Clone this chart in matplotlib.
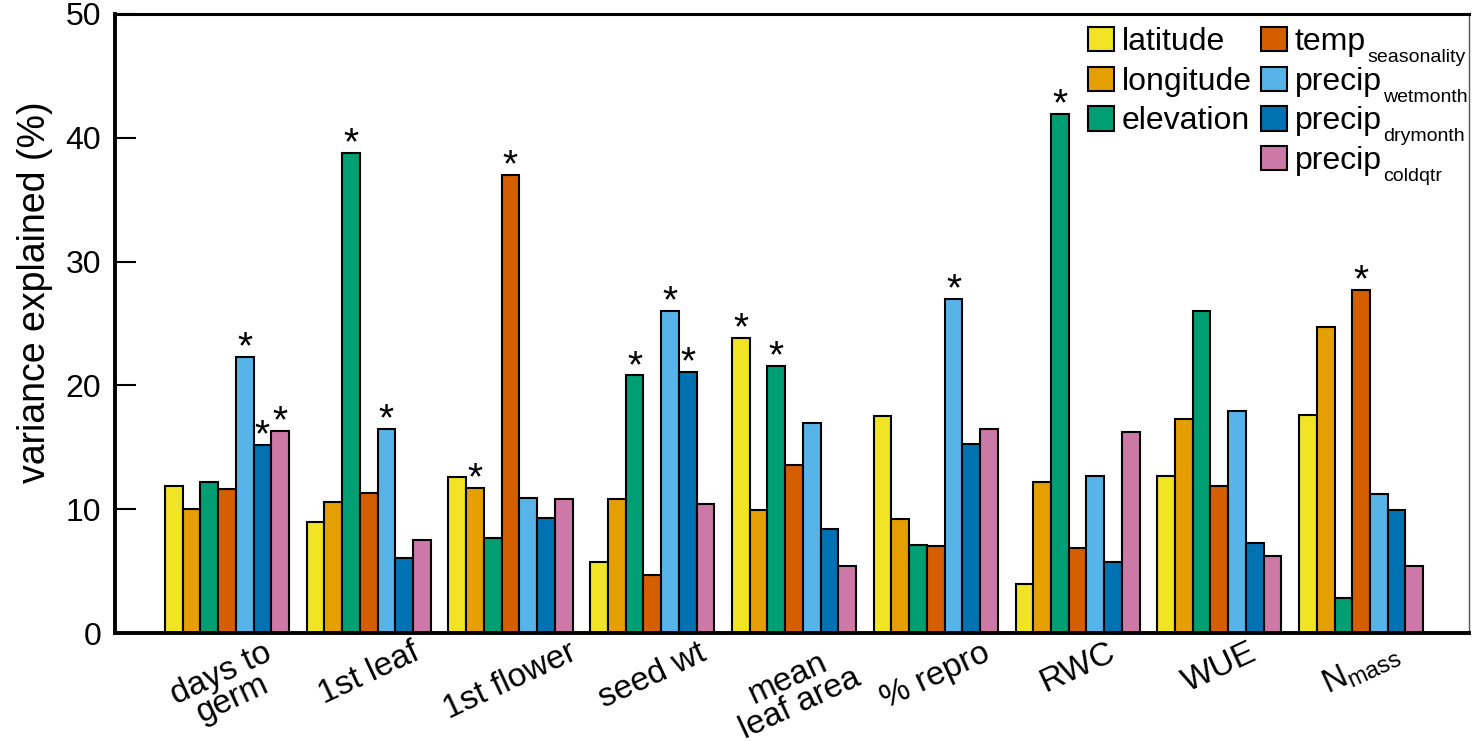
import matplotlib
matplotlib.use("Agg")
import matplotlib.pyplot as plt
from matplotlib.patches import Patch
import numpy as np

plt.rcParams['font.family'] = ['Liberation Sans', 'DejaVu Sans']
plt.rcParams['mathtext.default'] = 'regular'

# traits on the x axis
traits = ['days to\ngerm', '1st leaf', '1st flower', 'seed wt', 'mean\nleaf area',
          '% repro', 'RWC', 'WUE', r'N$_{mass}$']

# predictors (legend order): main label + subscript
pred_main = ['latitude', 'longitude', 'elevation', 'temp', 'precip', 'precip', 'precip']
pred_sub = ['', '', '', 'seasonality', 'wetmonth', 'drymonth', 'coldqtr']
colors = ['#F0E424', '#E69F00', '#009E73', '#D55E00', '#56B4E9', '#0072B2', '#CC79A7']

# variance explained (%) per predictor, one value per trait
latitude = [11.9, 9.0, 12.6, 5.7, 23.8, 17.5, 4.0, 12.7, 17.6]
longitude = [10.0, 10.6, 11.7, 10.8, 9.9, 9.2, 12.2, 17.3, 24.7]
elevation = [12.2, 38.8, 7.7, 20.8, 21.6, 7.1, 41.9, 26.0, 2.85]
temp_seas = [11.6, 11.3, 37.0, 4.7, 13.6, 7.0, 6.9, 11.9, 27.7]
prec_wet = [22.3, 16.5, 10.9, 26.0, 17.0, 27.0, 12.7, 17.9, 11.2]
prec_dry = [15.2, 6.1, 9.3, 21.1, 8.4, 15.3, 5.7, 7.3, 9.9]
prec_cold = [16.3, 7.5, 10.8, 10.4, 5.4, 16.5, 16.2, 6.2, 5.4]

# significance (asterisk) flags
sig_lat = [0, 0, 0, 0, 1, 0, 0, 0, 0]
sig_lon = [0, 0, 1, 0, 0, 0, 0, 0, 0]
sig_elev = [0, 1, 0, 1, 1, 0, 1, 0, 0]
sig_temp = [0, 0, 1, 0, 0, 0, 0, 0, 1]
sig_wet = [1, 1, 0, 1, 0, 1, 0, 0, 0]
sig_dry = [1, 0, 0, 1, 0, 0, 0, 0, 0]
sig_cold = [1, 0, 0, 0, 0, 0, 0, 0, 0]

values = [latitude, longitude, elevation, temp_seas, prec_wet, prec_dry, prec_cold]
sigs = [sig_lat, sig_lon, sig_elev, sig_temp, sig_wet, sig_dry, sig_cold]

fig = plt.figure(figsize=(14.72, 7.41), dpi=100)
ax = fig.add_axes([0.0781, 0.1457, 0.920, 0.8355])

n_pred = len(pred_main)
group = np.arange(len(traits)) * (n_pred + 1)

for i in range(n_pred):
    x = group + i + 0.5
    ax.bar(x, values[i], width=1.0, color=colors[i], edgecolor='black',
           linewidth=1.5, label=pred_main[i], zorder=2)
    for xi, v, s in zip(x, values[i], sigs[i]):
        if s:
            ax.annotate('*', (xi, v), xytext=(0, -1), textcoords='offset points',
                        ha='center', va='baseline', fontsize=28, color='black')

ax.set_xlim(-2.82, 73.6)
ax.set_ylim(0, 50)
ax.set_yticks([0, 10, 20, 30, 40, 50])
ax.tick_params(axis='y', direction='in', length=15, width=1.5, labelsize=23, pad=10)
ax.set_xticks(group + n_pred / 2)
ax.set_xticklabels(traits, rotation=25, ha='center', va='top', fontsize=24,
                   multialignment='center', linespacing=0.85)
ax.tick_params(axis='x', length=0, pad=3)

ax.set_ylabel('variance explained (%)', fontsize=27)
ax.yaxis.label.set_va('center')
ax.yaxis.set_label_coords(-0.059, 0.55)

for side in ['left', 'bottom']:
    ax.spines[side].set_linewidth(2.8)
ax.spines['top'].set_linewidth(2.2)
ax.spines['right'].set_linewidth(1.0)
ax.spines['right'].set_color('#555555')

handles, labels = ax.get_legend_handles_labels()
blank = Patch(facecolor='none', edgecolor='none')
handles = handles[:3] + [blank] + handles[3:]
labels = labels[:3] + [' '] + labels[3:]
leg = ax.legend(handles, labels, ncol=2, loc='upper left', bbox_to_anchor=(0.7186, 0.979),
                frameon=False, fontsize=23, handlelength=0.8, handleheight=0.8,
                handletextpad=0.25, columnspacing=0.3, labelspacing=0.29,
                borderpad=0, borderaxespad=0)

# small subscripts after the legend words
fig.canvas.draw()
leg_texts = leg.get_texts()
subs = [''] * 4 + pred_sub[3:]
for t, sub in zip(leg_texts, subs):
    if sub:
        ax.annotate(sub, xy=(1, 0), xycoords=t, xytext=(1, -3.6),
                    textcoords='offset points', ha='left', va='baseline',
                    fontsize=14, zorder=10, annotation_clip=False)

fig.savefig('out.png', dpi=100)
